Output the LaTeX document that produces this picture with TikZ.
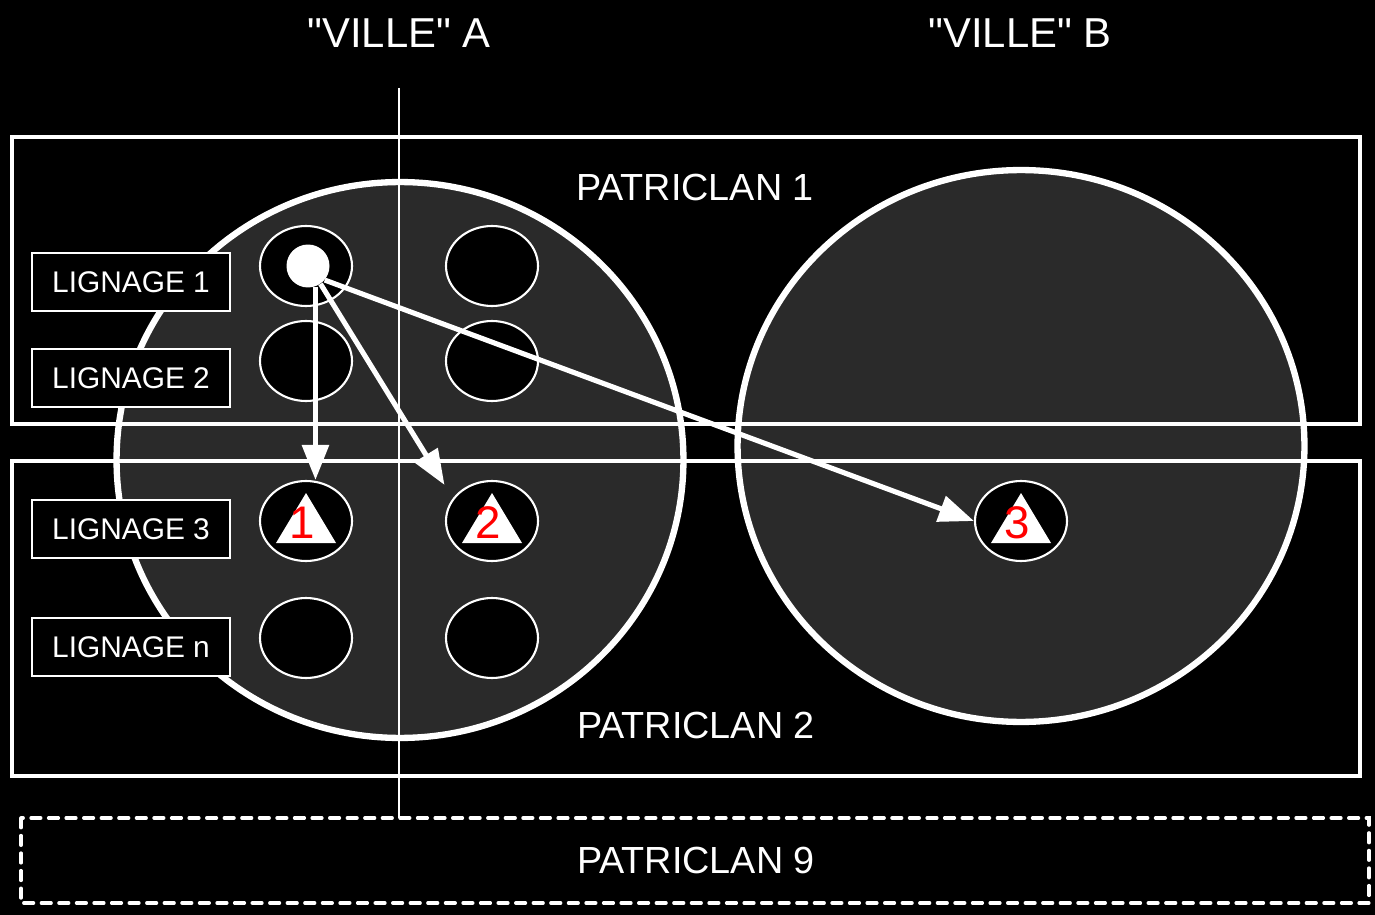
\documentclass[tikz,border=0pt]{standalone}
\usepackage{fontspec}
\setmainfont{Liberation Sans}[Ligatures=TeXOff]
\usetikzlibrary{arrows.meta,shapes.geometric}
\definecolor{fond}{HTML}{2A2A2A}
\begin{document}
\begin{tikzpicture}[x=0.02cm,y=-0.02cm,
  cite/.style={draw=white,line width=3.6pt,fill=fond},
  clan/.style={draw=white,line width=2pt},
  lignage/.style={draw=white,line width=1.2pt,fill=black,text=white,minimum width=3.96cm,minimum height=1.16cm,inner sep=0pt,font=\fontsize{17}{20}\selectfont},
  trou/.style={ellipse,draw=white,line width=1.2pt,fill=black,minimum width=1.84cm,minimum height=1.6cm,inner sep=0pt},
  fleche/.style={white,line width=2.9pt,-{Triangle[length=20pt,width=15pt]}},
  titre/.style={text=white,anchor=base,font=\fontsize{23.8}{28}\selectfont},
  clantxt/.style={text=white,anchor=base,font=\fontsize{21.5}{25}\selectfont},
  numero/.style={text=red,inner sep=0pt,font=\fontsize{26}{30}\selectfont}]
\fill[black] (0,0) rectangle (1375,915);
\useasboundingbox (0,0) rectangle (1375,915);
\draw[cite] (400,460) ellipse [x radius=5.67cm,y radius=5.56cm];
\draw[cite] (1021,446) ellipse [x radius=5.67cm,y radius=5.52cm];
\draw[clan] (12,137) rectangle (1360,424);
\draw[clan] (12,461) rectangle (1360,776);
\draw[clan,dash pattern=on 5.5pt off 4.5pt,line cap=round] (21,818) rectangle (1369,903);
\coordinate (haut) at (399,88);
\coordinate (bas) at (399,818);
\draw[white,line width=1.7pt] (haut) -- (bas);
\node[titre] (villeA) at (399,48) {"VILLE" A};
\node[titre] (villeB) at (1020,48) {"VILLE" B};
\node[clantxt] (pc1) at (695,201) {PATRICLAN 1};
\node[clantxt] (pc2) at (696,738) {PATRICLAN 2};
\node[clantxt] (pc9) at (696,873) {PATRICLAN 9};
\node[lignage] (lig1) at (131,282) {LIGNAGE 1};
\node[lignage] (lig2) at (131,378) {LIGNAGE 2};
\node[lignage] (lig3) at (131,529) {LIGNAGE 3};
\node[lignage] (lign) at (131,647) {LIGNAGE n};
\foreach \y/\r in {266/1,361/2,521/3,638/n} {
  \node[trou] (a\r) at (306,\y) {};
  \node[trou] (b\r) at (492,\y) {};
}
\node[trou] (c3) at (1021,521) {};
\node[circle,fill=white,minimum size=0.86cm,inner sep=0pt] (point) at (308,266) {};
\foreach \t/\k in {a3/1,b3/2,c3/3} {
  \fill[white,shift={(\t)}] (0,-28) -- (30,22) -- (-30,22) -- cycle;
  \node[numero] (num\k) at ([xshift=-2pt,yshift=-1pt]\t) {\k};
}
\draw[fleche] (point.-70) -- (point.-70 |- a3.north);
\draw[fleche,shorten >=9pt] (point.-55) -- (b3.150);
\draw[fleche] (point.-40) -- (c3.west);
\end{tikzpicture}
\end{document}
